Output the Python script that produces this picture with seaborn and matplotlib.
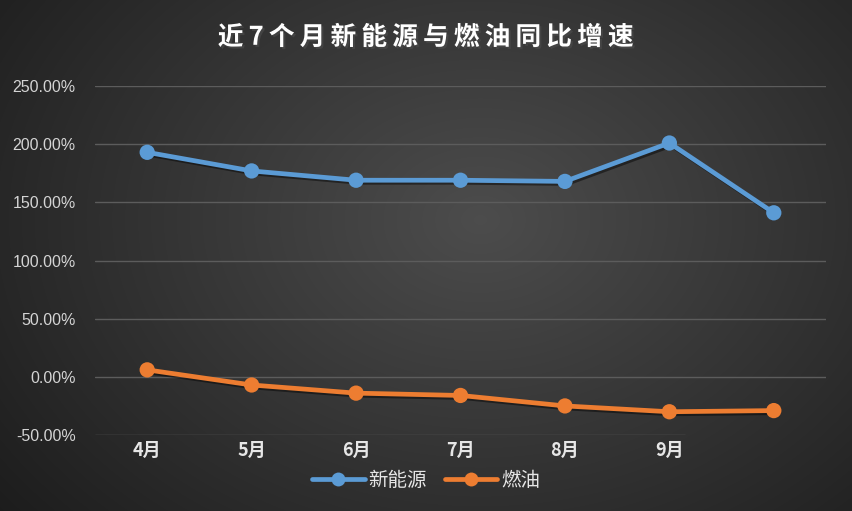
import matplotlib
matplotlib.use("Agg")
import matplotlib.pyplot as plt
import matplotlib.patheffects as pe
import numpy as np
import pandas as pd
import seaborn as sns

# data
month_labels = ['4月', '5月', '6月', '7月', '8月', '9月', '']
series_names = ['新能源', '燃油']
nev_growth = [193, 177, 169, 169, 168, 201, 141]      # %
fuel_growth = [6, -7, -14, -16, -25, -30, -29]         # %
y_ticks = [-50, 0, 50, 100, 150, 200, 250]
title = '近7个月新能源与燃油同比增速'

COLORS = {'新能源': '#5b9bd5', '燃油': '#ed7d31'}

df = pd.DataFrame({
    'idx': list(range(len(month_labels))) * 2,
    'value': nev_growth + fuel_growth,
    'series': [series_names[0]] * len(nev_growth) + [series_names[1]] * len(fuel_growth),
})

sns.set_theme(style='dark')
plt.rcParams['font.family'] = ['Noto Sans CJK SC', 'DejaVu Sans']

fig = plt.figure(figsize=(8.52, 5.11), dpi=100)

# radial gradient background
bg = fig.add_axes([0, 0, 1, 1], zorder=-10)
h, w = 511, 852
yy, xx = np.mgrid[0:h, 0:w]
r = np.sqrt(((xx - 480) / 560) ** 2 + ((yy - 220) / 420) ** 2)
shade = np.clip(0.30 - 0.17 * r, 0.11, 0.30)
bg.imshow(np.dstack([shade, shade, shade]), aspect='auto', extent=[0, 1, 0, 1])
bg.axis('off')

ax = fig.add_axes([0.1115, 0.1487, 0.858, 0.683])
ax.set_facecolor('none')

shadow = [pe.SimpleLineShadow(offset=(1.5, -1.5), shadow_color='black', alpha=0.45), pe.Normal()]
sns.lineplot(data=df, x='idx', y='value', hue='series', palette=COLORS,
             marker='o', markersize=11, linewidth=3.4, markeredgewidth=0,
             ax=ax, legend=False)
for ln in ax.get_lines():
    ln.set_path_effects(shadow)

ax.set_xlim(-0.5, len(month_labels) - 0.5)
ax.set_ylim(-50, 250)
for t in y_ticks:
    if t == -50:
        ax.hlines(t, -0.5, 5.15, color='#5c5c5c', linewidth=1, zorder=0)
    else:
        ax.axhline(t, color='#5c5c5c', linewidth=1, zorder=0)
ax.grid(False)
for s in ax.spines.values():
    s.set_visible(False)

ax.set_yticks(y_ticks)
ax.set_yticklabels([f'{t:.2f}%' for t in y_ticks], color='#d4d4d4',
                   fontsize=11.5, family='Liberation Sans')
ax.set_xticks(range(len(month_labels)))
ax.set_xticklabels(month_labels, color='#e6e6e6', fontsize=13, fontweight='bold')
ax.tick_params(axis='both', length=0, pad=4)
ax.tick_params(axis='y', pad=14)
ax.set_xlabel('')
ax.set_ylabel('')

fig.text(0.5, 0.927, '\u2009'.join(title), color='white', fontsize=18.5, fontweight='bold',
         ha='center', va='center',
         path_effects=[pe.withSimplePatchShadow(offset=(1.5, -1.5), alpha=0.6)])

handles = [plt.Line2D([], [], color=COLORS[n], marker='o', markersize=10, linewidth=3.4,
                      markeredgewidth=0) for n in series_names]
leg = fig.legend(handles, series_names, loc='center', bbox_to_anchor=(0.5, 0.06),
                 ncol=2, frameon=False, fontsize=14, handlelength=2.7,
                 columnspacing=0.9, handletextpad=0.2)
for t in leg.get_texts():
    t.set_color('#e6e6e6')

fig.savefig('out.png', dpi=100)
